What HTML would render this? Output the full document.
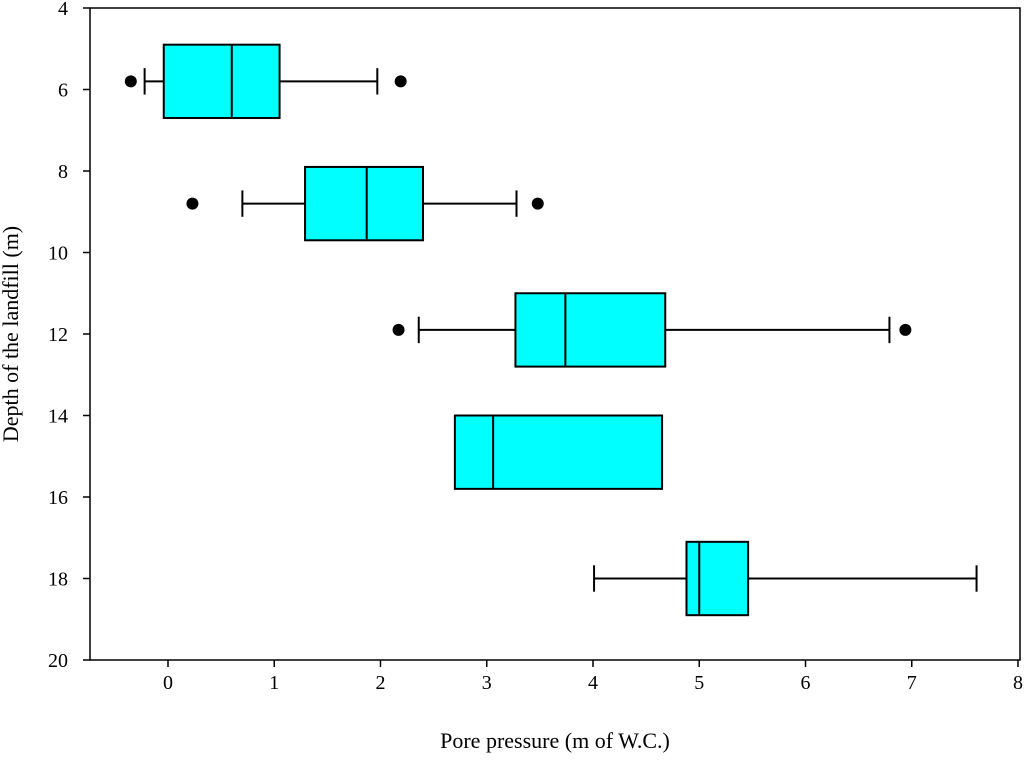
<!DOCTYPE html>
<html><head><meta charset="utf-8"><style>
body{margin:0;background:#fff}
svg text{font-family:"Liberation Serif",serif;fill:#000}
</style></head><body>
<svg id="chart" width="1024" height="760">
<g id="plot"></g>
<text x="555" y="748" font-size="22" text-anchor="middle">Pore pressure (m of W.C.)</text>
<text transform="translate(18,334) rotate(-90)" font-size="22" text-anchor="middle">Depth of the landfill (m)</text>
</svg>
<script>
const depths=[5.8,8.8,11.9,14.9,18.0];
const q1=[-0.04,1.29,3.27,2.70,4.88];
const med=[0.60,1.87,3.74,3.06,5.00];
const q3=[1.05,2.40,4.68,4.65,5.46];
const wLo=[-0.22,0.70,2.36,null,4.01];
const wHi=[1.97,3.28,6.79,null,7.61];
const outliers=[[-0.35,2.19],[0.23,3.48],[2.17,6.94],[],[]];
const xTicks=[0,1,2,3,4,5,6,7,8];
const yTicks=[4,6,8,10,12,14,16,18,20];
const L=90,R=1020,T=8,B=660;
const xs=v=>168+v*106.25;
const ys=v=>T+(v-4)*(B-T)/16;
const boxH=1.8;
const g=document.getElementById('plot');
const NS='http://www.w3.org/2000/svg';
function mk(t,a){const e=document.createElementNS(NS,t);for(const k in a)e.setAttribute(k,a[k]);g.appendChild(e);return e;}
let e=mk('rect',{x:L,y:T,width:R-L,height:B-T,fill:'none',stroke:'#000','stroke-width':1.5});


xTicks.forEach(v=>{
 let t=mk('line',{x1:xs(v),x2:xs(v),y1:B,y2:B+7,stroke:'#000','stroke-width':1.5});
 
 
 let l=mk('text',{x:xs(v),y:B+29,'font-size':20,'text-anchor':'middle'});l.textContent=v;
 
 
});
yTicks.forEach(v=>{
 let t=mk('line',{x1:L-7,x2:L,y1:ys(v),y2:ys(v),stroke:'#000','stroke-width':1.5});
 
 
 let l=mk('text',{x:L-22,y:ys(v)+7,'font-size':20,'text-anchor':'end'});l.textContent=v;
 
 
});
depths.forEach((d,i)=>{
 const yc=ys(d),y0=ys(d-boxH/2),y1=ys(d+boxH/2),cap=(y1-y0)*0.18;
 if(wLo[i]!==null){
  let w=mk('line',{x1:xs(wLo[i]),x2:xs(q1[i]),y1:yc,y2:yc,stroke:'#000','stroke-width':2});
  
  
  let c=mk('line',{x1:xs(wLo[i]),x2:xs(wLo[i]),y1:yc-cap,y2:yc+cap,stroke:'#000','stroke-width':2});
  
  
 }
 if(wHi[i]!==null){
  let w=mk('line',{x1:xs(q3[i]),x2:xs(wHi[i]),y1:yc,y2:yc,stroke:'#000','stroke-width':2});
  
  
  let c=mk('line',{x1:xs(wHi[i]),x2:xs(wHi[i]),y1:yc-cap,y2:yc+cap,stroke:'#000','stroke-width':2});
  
  
 }
 let b=mk('rect',{x:xs(q1[i]),y:y0,width:xs(q3[i])-xs(q1[i]),height:y1-y0,fill:'#00ffff',stroke:'#000','stroke-width':2});
 
 
 let m=mk('line',{x1:xs(med[i]),x2:xs(med[i]),y1:y0,y2:y1,stroke:'#000','stroke-width':2});
 
 
 outliers[i].forEach(o=>{
  let c=mk('circle',{cx:xs(o),cy:yc,r:6,fill:'#000'});
  
  
 });
});
</script>
</body></html>
